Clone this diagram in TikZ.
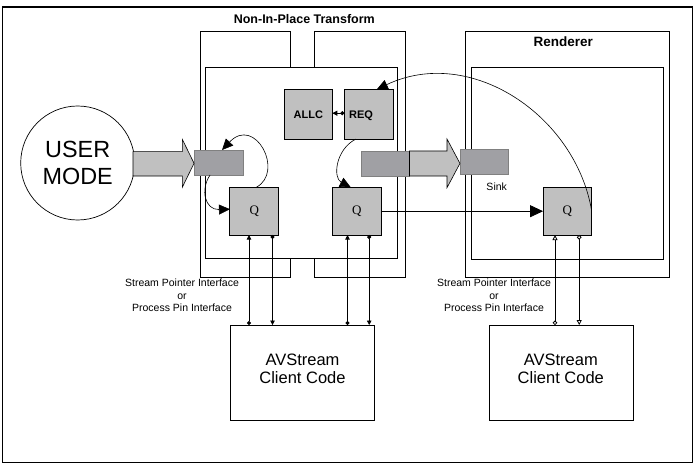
\documentclass[tikz,border=0pt]{standalone}
\usepackage{fontspec}
\setmainfont{Liberation Sans}
\newfontfamily\qfont{Liberation Serif}
\usetikzlibrary{arrows.meta,calc}
\definecolor{boxgray}{HTML}{C0C0C0}
\definecolor{pingray}{HTML}{A0A0A4}
\definecolor{pinedge}{HTML}{808080}
\tikzset{
  mydot/.tip={Circle[length=4pt]},
  mytri/.tip={Triangle[length=4.5pt,width=4.5pt]},
  odot/.tip={Circle[open,length=4.5pt,fill=white]},
  otri/.tip={Triangle[open,length=5pt,width=5pt,fill=white]},
  bigtri/.tip={Triangle[length=11pt,width=10pt]}
}
\begin{document}
\begin{tikzpicture}[x=1pt,y=-1pt,
  box/.style={draw, line width=1pt, inner sep=0pt, outer sep=0pt},
  wbox/.style={box, fill=white},
  gbox/.style={box, fill=boxgray},
  qbox/.style={gbox, minimum width=48.5pt, minimum height=47.7pt, font=\qfont\fontsize{13}{15}\selectfont},
  pinbox/.style={fill=pingray, draw=pinedge, line width=0.6pt, inner sep=0pt, outer sep=0pt, minimum width=48.5pt, minimum height=25pt},
  bigarrow/.style={fill=boxgray, draw, line width=0.6pt, line join=miter},
  curve/.style={line width=0.6pt, -bigtri},
  wire/.style={line width=0.8pt},
  lbl/.style={inner sep=0pt, anchor=base},
  titlefont/.style={font=\bfseries\fontsize{12.5}{15}\selectfont},
  smallfont/.style={font=\fontsize{10.5}{12}\selectfont},
  clientfont/.style={font=\fontsize{16.5}{18}\selectfont}
]
\useasboundingbox (0,0) rectangle (700,465);
% outer frame
\draw[line width=1.5pt] (2.5,7) rectangle (692.5,462.5);

% Non-In-Place Transform
\node[box, minimum width=90pt, minimum height=245pt] (tl) at (245,154.5) {};
\node[box, minimum width=91pt, minimum height=245pt] (tr) at (359.5,154.5) {};
\node[wbox, minimum width=192pt, minimum height=190pt] (tin) at (301,163) {};
\node[lbl, titlefont] (ttl) at (304.3,24) {Non-In-Place Transform};

% Renderer
\node[box, minimum width=204pt, minimum height=245pt] (rout) at (567,154.5) {};
\node[box, minimum width=191.5pt, minimum height=191pt] (rin) at (567.25,163.5) {};
\node[lbl, font=\bfseries\fontsize{13.5}{16}\selectfont] (rttl) at (563.3,46.7) {Renderer};

% ALLC / REQ
\node[gbox, minimum width=48pt, minimum height=49.7pt] (allc) at (308.3,114.2) {};
\node[lbl, font=\bfseries\fontsize{11}{13}\selectfont] at (308.3,119) {ALLC};
\node[gbox, minimum width=49pt, minimum height=49.7pt] (req) at (368.8,114.2) {};
\node[lbl, font=\bfseries\fontsize{11}{13}\selectfont] at (361,119) {REQ};

% Q boxes
\node[qbox] (q1) at (254.2,211.2) {Q};
\node[qbox] (q2) at (356.8,211.2) {Q};
\node[qbox] (q3) at (567.3,211.2) {Q};

% USER MODE
\node[draw, circle, line width=0.7pt, minimum size=114pt, inner sep=0pt, align=center,
      font=\fontsize{23.4}{27}\selectfont] (user) at (77.7,163) {USER\\MODE};

% pins
\node[pinbox, minimum width=49.3pt] (pinin) at (218.7,162.5) {};
\node[pinbox] (pinout) at (385.2,163.5) {};
\node[pinbox] (sink) at (484.2,161.5) {};
\node[lbl, smallfont] (sinklbl) at (496.7,190) {Sink};

% big arrows
\draw[bigarrow] (133,151.7) -- (182.3,151.7) -- (182.3,139.3) -- (pinin.west |- 0,163.3)
  -- (182.3,187.3) -- (182.3,176) -- (133,176) -- cycle;
\draw[bigarrow] (pinout.east |- 0,151) -- (447,151) -- (447,139) -- (sink.west |- 0,163.4)
  -- (447,187.7) -- (447,176) -- (pinout.east |- 0,176) -- cycle;

% clients
\node[box, minimum width=143.6pt, minimum height=95.7pt] (c1) at (302.5,372.9) {};
\node[box, minimum width=144pt, minimum height=95.7pt] (c2) at (561.3,372.9) {};
\node[lbl, clientfont] at (302.5,365) {AVStream};
\node[lbl, clientfont] at (302.5,383) {Client Code};
\node[lbl, clientfont] at (560.8,365) {AVStream};
\node[lbl, clientfont] at (560.8,383) {Client Code};

% interface labels
\node[lbl, smallfont] at (182,286.7) {Stream Pointer Interface};
\node[lbl, smallfont] at (182,299) {or};
\node[lbl, smallfont] at (182,311) {Process Pin Interface};
\node[lbl, smallfont] at (494,286.7) {Stream Pointer Interface};
\node[lbl, smallfont] at (494,299) {or};
\node[lbl, smallfont] at (494,311) {Process Pin Interface};

% curved arrows
\draw[curve] ([xshift=2pt]q1.north) .. controls (285,172) and (255,115) .. ([xshift=28pt]pinin.north west);
\draw[curve] ([xshift=16pt]pinin.south west) .. controls (200,190) and (205,210) .. ([yshift=2pt]q1.west);
\draw[curve] ([xshift=-13pt]req.south) .. controls (335,150) and (333,178) .. ([xshift=-6pt]q2.north);
\draw[curve] ([yshift=1pt]q3.east) .. controls (575,115) and (470,45) .. ([xshift=8pt]req.north);

% ALLC <- REQ
\draw[wire, mydot-{Triangle[length=5pt,width=5pt]}] ([yshift=1pt]req.west) -- ([yshift=1pt]allc.east);

% Q2 -> Q3
\draw[wire, -{Triangle[length=13pt,width=12pt]}] (q2.east) -- (q3.west);

% vertical interface wires
\coordinate (v1) at ([xshift=-5.2pt]q1.south);
\coordinate (v2) at ([xshift=18.3pt]q1.south);
\coordinate (v3) at ([xshift=-9.3pt]q2.south);
\coordinate (v4) at ([xshift=12.4pt]q2.south);
\coordinate (v5) at ([xshift=-12.3pt]q3.south);
\coordinate (v6) at ([xshift=11.9pt]q3.south);
\draw[wire, mydot-mytri] (c1.north -| v1) -- (v1);
\draw[wire, mydot-mytri] (v2) -- (c1.north -| v2);
\draw[wire, mydot-mytri] (c1.north -| v3) -- (v3);
\draw[wire, mydot-mytri] (v4) -- (c1.north -| v4);
\draw[wire, odot-otri] (c2.north -| v5) -- (v5);
\draw[wire, odot-otri] (v6) -- (c2.north -| v6);
\end{tikzpicture}
\end{document}
